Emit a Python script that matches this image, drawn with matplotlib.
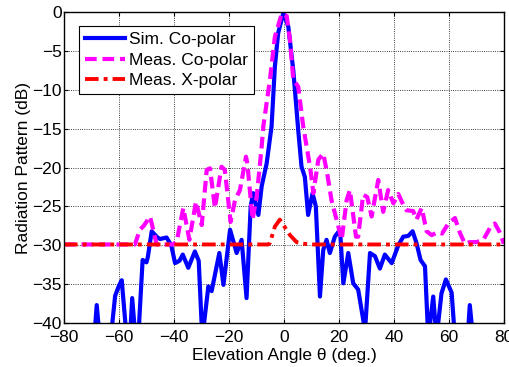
import numpy as np
import matplotlib
matplotlib.use('Agg')
import matplotlib.pyplot as plt

plt.rcParams['font.family'] = ['Liberation Sans', 'DejaVu Sans']

# Sim. Co-polar (values below -40 dB are clipped by the axis)
sim_theta = [-80, -69, -68.1, -67, -63, -61.4, -60, -59, -57.2, -56, -55.2, -54, -53,
             -51.4, -50, -49.5, -48.1, -46, -45, -42.7, -41, -39.6, -38, -36.8, -34.8,
             -32.4, -31, -29.7, -27.5, -26.3, -23.5, -22, -19.6, -17.2, -15.4, -13.6,
             -12.1, -11.2, -9.3, -8.1, -6.3, -4.5, -3.3, -2.1, -0.2, 1.6, 3.4, 5.2, 6.4,
             7.6, 8.8, 10.4, 11.6, 13.1, 14.3, 15.5, 16.7, 18.5, 20.4, 21.6, 23.4, 25.2,
             27, 29.5, 31.3, 33.1, 34.9, 36.7, 39.2, 41.6, 43.4, 45.2, 46.8, 48.2, 49.7,
             51.3, 52.5, 54.3, 55.5, 57.3, 58.9, 61, 62.2, 66.8, 67.6, 68.8, 80]
sim_db = [-42, -42, -37.7, -42, -42, -36.5, -35.2, -34.5, -42, -42, -36.8, -42, -42,
          -31.9, -32.2, -31.5, -28.2, -29.0, -29.2, -29.0, -30.0, -32.3, -32.0, -31.2,
          -32.9, -30.8, -32.0, -42, -35.3, -35.9, -31.0, -35.1, -28.0, -31.0, -29.3,
          -36.8, -25.0, -23.3, -26.1, -22.4, -19.5, -14.7, -7.0, -2.7, -0.1, -1.9,
          -7.5, -15.2, -19.9, -21.2, -26.1, -23.3, -25.0, -36.6, -30.6, -29.3, -31.0,
          -28.9, -28.0, -34.9, -31.0, -34.9, -35.7, -41, -31.0, -31.4, -33.0, -31.2,
          -32.3, -30.0, -28.9, -28.8, -28.2, -29.7, -31.9, -32.7, -42, -36.6, -42,
          -36.2, -34.4, -36.1, -42, -42, -37.7, -42, -42]

# Meas. Co-polar
meas_theta = [-80, -54.2, -52.4, -51, -48.7, -46.3, -40.3, -39, -36.6, -34.4, -32,
              -29.9, -28.1, -26.9, -25.1, -22.7, -21.5, -19.4, -17.8, -16, -13.8,
              -13.3, -11.4, -9.9, -8.1, -7.5, -5.1, -3.3, -0.8, 1, 2.2, 3.4, 5.2, 7,
              9.5, 10.7, 12.5, 14.3, 15.7, 17.3, 19.8, 21, 22.8, 24, 26.2, 27, 28.8,
              30.3, 31.9, 34.3, 36.1, 37.9, 39.8, 41.6, 43.4, 44.6, 47, 48.2, 50.1,
              51.9, 53.7, 56.1, 57.5, 59.8, 62.2, 64, 65.8, 67.6, 70, 72.5, 74.9, 76.7,
              78.3, 80]
meas_db = [-29.9, -29.9, -28.0, -27.5, -26.3, -29.9, -29.9, -29.5, -25.2, -29.3,
           -24.4, -27.4, -20.3, -20.1, -25.2, -19.9, -20.3, -27.0, -24.2, -22.9,
           -18.6, -19.5, -26.7, -23.7, -17.3, -14.7, -8.7, -3.2, -0.2, -0.5, -3.6,
           -8.7, -9.6, -14.7, -19.9, -23.3, -19.0, -18.2, -20.7, -24.2, -27.6, -29.3,
           -24.2, -22.9, -28.9, -28.9, -23.5, -23.8, -26.3, -21.6, -25.7, -22.9,
           -24.6, -23.4, -24.8, -25.5, -25.6, -26.7, -25.2, -28.2, -28.7, -28.3,
           -28.5, -27.2, -26.5, -28.4, -29.8, -29.6, -29.6, -29.3, -27.8, -27.2,
           -28.2, -29.8]

# Meas. X-polar
xpol_theta = [-80, -5.7, -5.1, -3.3, -1.5, -0.2, 2.2, 4.6, 7, 9.5, 80]
xpol_db = [-29.9, -29.9, -29.7, -27.6, -26.7, -27.4, -28.7, -29.6, -29.8, -29.9, -29.9]

fig = plt.figure(figsize=(5.1, 3.67), dpi=100)
ax = fig.add_axes([0.1255, 0.12, 0.8625, 0.847])

ax.plot(sim_theta, sim_db, color='#0000ff', lw=3, label='Sim. Co-polar',
        solid_joinstyle='round')
ax.plot(meas_theta, meas_db, color='#ff00ff', lw=3, ls=(0, (2.8, 1.4)),
        label='Meas. Co-polar')
ax.plot(xpol_theta, xpol_db, color='#ff0000', lw=2.8, ls=(0, (3.5, 1.3, 1, 1.3)),
        label='Meas. X-polar')

ax.set_xlim(-80, 80)
ax.set_ylim(-40, 0)
ax.set_xticks(np.arange(-80, 81, 20))
ax.set_yticks(np.arange(-40, 1, 5))
ax.grid(True, color='black', ls=':', lw=0.6)
ax.tick_params(direction='in', top=True, right=True, labelsize=12.5, length=3)
ax.tick_params(axis='x', pad=5)
ax.tick_params(axis='y', pad=1.5)
for s in ax.spines.values():
    s.set_linewidth(1.0)

ax.set_xlabel('Elevation Angle θ (deg.)', fontsize=12.5, labelpad=2)
ax.set_ylabel('Radiation Pattern (dB)', fontsize=12.5, labelpad=1)

leg = ax.legend(loc='upper left', bbox_to_anchor=(0.034, 0.955), fontsize=12.5,
                fancybox=False, edgecolor='black', framealpha=1,
                handlelength=2.3, handletextpad=0.25, borderpad=0.35,
                labelspacing=0.3, borderaxespad=0)
leg.get_frame().set_linewidth(0.8)

fig.savefig('out.png', dpi=100)
